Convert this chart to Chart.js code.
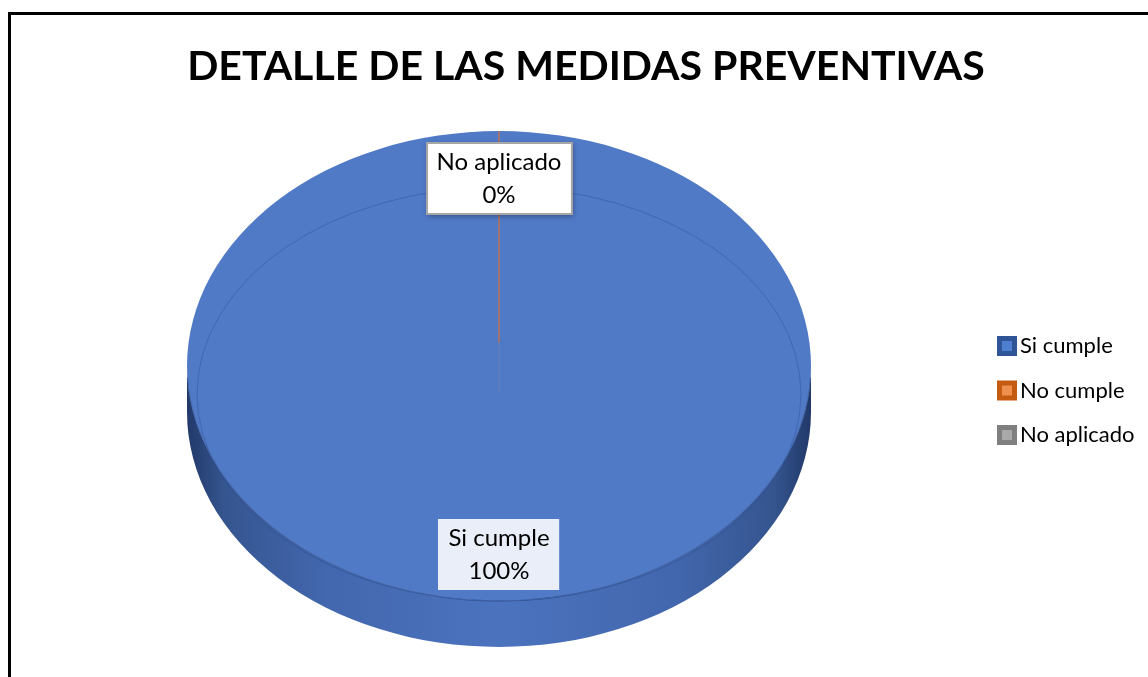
<!DOCTYPE html>
<html><head><meta charset="utf-8">
<script src="https://cdn.jsdelivr.net/npm/chart.js@4.4.0/dist/chart.umd.min.js"></script>
<style>html,body{margin:0;padding:0;background:#fff;overflow:hidden}
#wrap{position:absolute;left:0;top:0;width:1148px;height:677px}</style>
</head><body><div id="wrap"><canvas id="c" width="1148" height="677"></canvas></div>
<script>
const TITLE = 'DETALLE DE LAS MEDIDAS PREVENTIVAS';
const categories = ['Si cumple', 'No cumple', 'No aplicado'];
const values = [100, 0, 0];
const percentLabels = ['100%', '0%', '0%'];
const showLabel = [true, false, true];

const faceColors = ['#5079C6', '#ED7D31', '#A5A5A5'];
const legendOuter = ['#2F5597', '#C55A11', '#7F7F7F'];
const legendInner = ['#4F7FD0', '#F0904F', '#A9A9A9'];
const labelFill = ['rgba(245,247,252,0.93)', '#FFFFFF', '#FFFFFF'];
const labelBorder = [null, '#A6A6A6', '#A6A6A6'];

const FONT = 'Lato, "Open Sans", sans-serif';
const TILT = 235 / 312;
const FACE_CY = 366;
const DEPTH = 46;
const PERSP_DROP = 26;

function geom(chart) {
  const a = chart.getDatasetMeta(0).data[0];
  return {cx: a.x, cy: a.y, R: a.outerRadius, ry: a.outerRadius * TILT};
}
function mapPt(g, ang, frac) {
  return {x: g.cx + Math.cos(ang) * g.R * frac, y: FACE_CY + Math.sin(ang) * g.ry * frac};
}

const tiltPlugin = {
  id: 'tilt3d',
  beforeDraw(chart) {
    const ctx = chart.ctx;
    ctx.save();
    ctx.fillStyle = '#fff';
    ctx.fillRect(0, 0, chart.width, chart.height);
    ctx.strokeStyle = '#000';
    ctx.lineWidth = 3;
    ctx.strokeRect(9.5, 13.5, 2000, 2000);
    ctx.fillStyle = '#000';
    ctx.font = 'bold 41px ' + FONT;
    ctx.textAlign = 'center';
    ctx.textBaseline = 'alphabetic';
    ctx.fillText(TITLE, 586, 80);
    ctx.restore();
  },
  beforeDatasetsDraw(chart) {
    const ctx = chart.ctx, g = geom(chart);
    ctx.save();
    const gr = ctx.createLinearGradient(g.cx - g.R, 0, g.cx + g.R, 0);
    gr.addColorStop(0, '#22396A');
    gr.addColorStop(0.06, '#35558F');
    gr.addColorStop(0.22, '#4367AE');
    gr.addColorStop(0.5, '#4B73BE');
    gr.addColorStop(0.78, '#4367AE');
    gr.addColorStop(0.94, '#35558F');
    gr.addColorStop(1, '#22396A');
    ctx.beginPath();
    ctx.ellipse(g.cx, FACE_CY, g.R, g.ry, 0, 0, Math.PI, false);
    ctx.ellipse(g.cx, FACE_CY + DEPTH, g.R, g.ry, 0, Math.PI, 0, true);
    ctx.closePath();
    ctx.fillStyle = gr;
    ctx.fill();
    ctx.restore();
    ctx.save();
    ctx.translate(g.cx, FACE_CY);
    ctx.scale(1, TILT);
    ctx.translate(-g.cx, -g.cy);
  },
  afterDatasetsDraw(chart) {
    const ctx = chart.ctx, g = geom(chart);
    ctx.restore();
    ctx.save();
    ctx.beginPath();
    ctx.ellipse(g.cx, FACE_CY, g.R, g.ry, 0, 0.05, Math.PI - 0.05, false);
    ctx.strokeStyle = 'rgba(40,70,130,0.6)';
    ctx.lineWidth = 1.2;
    ctx.stroke();
    ctx.beginPath();
    ctx.ellipse(g.cx, FACE_CY + 28, g.R - 10, g.ry - 28, 0, 0, Math.PI * 2);
    ctx.strokeStyle = 'rgba(45,80,150,0.45)';
    ctx.lineWidth = 1;
    ctx.stroke();
    const meta = chart.getDatasetMeta(0);
    const top = mapPt(g, meta.data[2].startAngle, 1);
    ctx.beginPath();
    ctx.moveTo(top.x, top.y);
    ctx.lineTo(g.cx, FACE_CY + PERSP_DROP);
    ctx.strokeStyle = 'rgba(110,130,175,0.7)';
    ctx.lineWidth = 1.3;
    ctx.stroke();
    const t1 = mapPt(g, meta.data[1].startAngle, 1);
    const t2 = mapPt(g, meta.data[1].startAngle, 0.1);
    ctx.beginPath();
    ctx.moveTo(t1.x, t1.y);
    ctx.lineTo(t2.x, t2.y);
    ctx.strokeStyle = 'rgba(200,110,70,0.85)';
    ctx.lineWidth = 1.5;
    ctx.stroke();
    ctx.font = '24px ' + FONT;
    ctx.textAlign = 'center';
    ctx.textBaseline = 'middle';
    meta.data.forEach((arc, i) => {
      if (!showLabel[i]) return;
      const mid = (arc.startAngle + arc.endAngle) / 2;
      const p = mapPt(g, mid, 0.8);
      const w = Math.max(ctx.measureText(categories[i]).width, ctx.measureText(percentLabels[i]).width) + 20;
      const h = 71;
      const x0 = Math.round(p.x - w / 2), y0 = Math.round(p.y - h / 2);
      ctx.save();
      if (labelBorder[i]) {
        ctx.shadowColor = 'rgba(0,0,0,0.35)';
        ctx.shadowBlur = 5;
        ctx.shadowOffsetX = 1;
        ctx.shadowOffsetY = 2;
      }
      ctx.fillStyle = labelFill[i];
      ctx.fillRect(x0, y0, w, h);
      ctx.restore();
      if (labelBorder[i]) {
        ctx.strokeStyle = labelBorder[i];
        ctx.lineWidth = 2;
        ctx.strokeRect(x0, y0, w, h);
      }
      ctx.fillStyle = '#000';
      ctx.fillText(categories[i], p.x, p.y - 16);
      ctx.fillText(percentLabels[i], p.x, p.y + 17);
    });
    ctx.restore();
  },
  afterDraw(chart) {
    const ctx = chart.ctx;
    ctx.save();
    ctx.font = '22px ' + FONT;
    ctx.textBaseline = 'middle';
    ctx.textAlign = 'left';
    categories.forEach((c, i) => {
      const y = 346 + i * 44.5;
      ctx.fillStyle = legendOuter[i];
      ctx.fillRect(997, y - 10, 20, 20);
      ctx.fillStyle = legendInner[i];
      ctx.fillRect(1002, y - 5, 10, 10);
      ctx.fillStyle = '#000';
      ctx.fillText(c, 1020, y);
    });
    ctx.restore();
  }
};

new Chart(document.getElementById('c'), {
  type: 'pie',
  data: {
    labels: categories,
    datasets: [{
      data: values,
      backgroundColor: faceColors,
      borderWidth: 0,
      hoverOffset: 0,
      offset: 0,
      clip: false
    }]
  },
  options: {
    responsive: false,
    devicePixelRatio: 1,
    animation: false,
    events: [],
    layout: {padding: {left: 24, right: 174, top: 40, bottom: 13}},
    plugins: {legend: {display: false}, title: {display: false}, tooltip: {enabled: false}}
  },
  plugins: [tiltPlugin]
});
</script>
</body></html>
